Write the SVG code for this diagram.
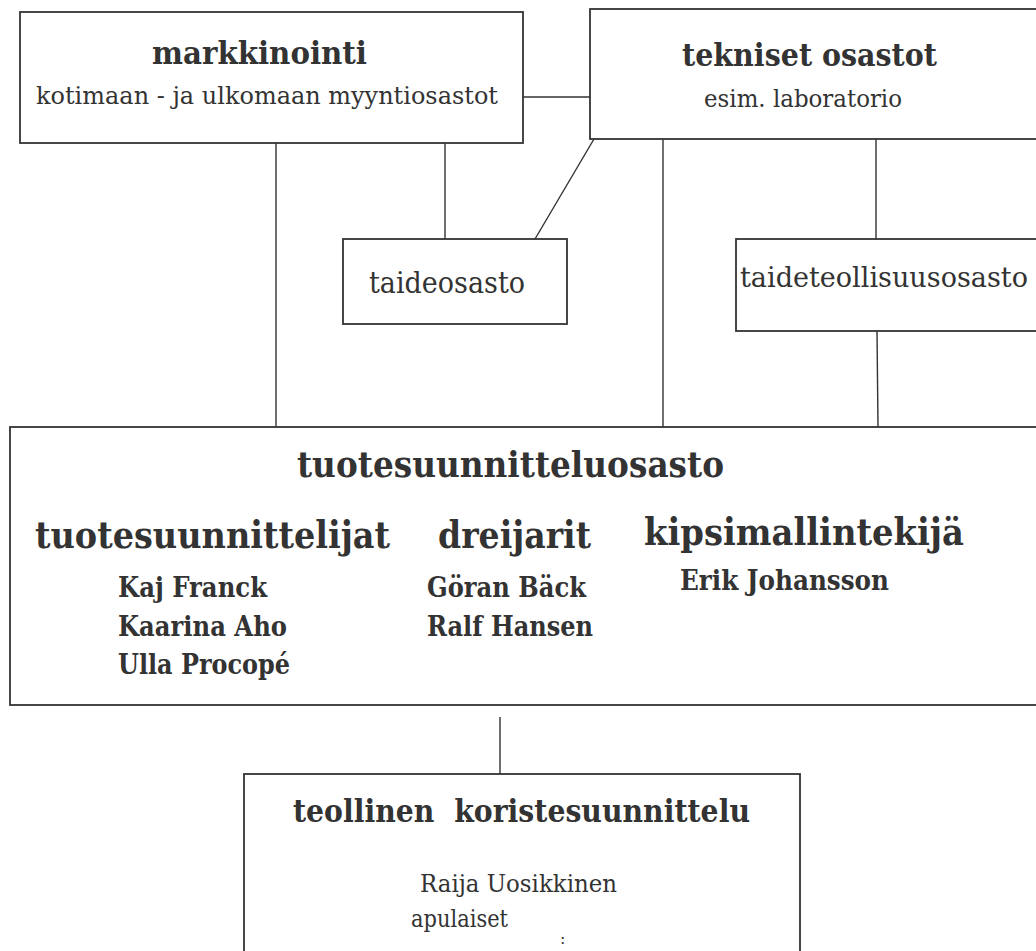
<svg xmlns="http://www.w3.org/2000/svg" width="1036" height="951" viewBox="0 0 1036 951">
<style>
.box{fill:#fff;stroke:#333;stroke-width:1.8}
.ln{stroke:#333;stroke-width:1.4;fill:none}
text{font-family:"DejaVu Serif","Liberation Serif",serif;fill:#333}
.b{font-weight:bold}
</style>
<rect width="1036" height="951" fill="#fff"/>
<g id="connectors">
<line class="ln" x1="523" y1="97" x2="590" y2="97"/>
<line class="ln" x1="276" y1="143" x2="276" y2="427"/>
<line class="ln" x1="445" y1="143" x2="445" y2="239"/>
<line class="ln" x1="594" y1="139" x2="535" y2="239"/>
<line class="ln" x1="663" y1="139" x2="663" y2="427"/>
<line class="ln" x1="876" y1="139" x2="876" y2="239"/>
<line class="ln" x1="877" y1="331" x2="878" y2="427"/>
<line class="ln" x1="500" y1="717" x2="500" y2="774"/>
</g>
<g id="markkinointi">
<rect class="box" x="20" y="12" width="503" height="131"/>
<text class="b" x="152" y="64" font-size="32" textLength="215" lengthAdjust="spacingAndGlyphs">markkinointi</text>
<text x="36" y="104" font-size="25" textLength="462" lengthAdjust="spacingAndGlyphs">kotimaan - ja ulkomaan myyntiosastot</text>
</g>
<g id="tekniset">
<rect class="box" x="590" y="9" width="470" height="130"/>
<text class="b" x="682" y="66" font-size="32" textLength="255" lengthAdjust="spacingAndGlyphs">tekniset osastot</text>
<text x="704" y="107" font-size="25" textLength="198" lengthAdjust="spacingAndGlyphs">esim. laboratorio</text>
</g>
<g id="taideosasto">
<rect class="box" x="343" y="239" width="224" height="85"/>
<text x="369" y="293" font-size="30" textLength="156" lengthAdjust="spacingAndGlyphs">taideosasto</text>
</g>
<g id="taideteollisuusosasto">
<rect class="box" x="736" y="239" width="330" height="92"/>
<text x="740" y="287" font-size="27" textLength="288" lengthAdjust="spacingAndGlyphs">taideteollisuusosasto</text>
</g>
<g id="tuotesuunnitteluosasto">
<rect class="box" x="10" y="427" width="1050" height="278"/>
<text class="b" x="297" y="477" font-size="35" textLength="427" lengthAdjust="spacingAndGlyphs">tuotesuunnitteluosasto</text>
<text class="b" x="35" y="548" font-size="38" textLength="355" lengthAdjust="spacingAndGlyphs">tuotesuunnittelijat</text>
<text class="b" x="438" y="548" font-size="38" textLength="153" lengthAdjust="spacingAndGlyphs">dreijarit</text>
<text class="b" x="644" y="545" font-size="38" textLength="320" lengthAdjust="spacingAndGlyphs">kipsimallintekijä</text>
<text class="b" x="118" y="597" font-size="27" textLength="149" lengthAdjust="spacingAndGlyphs">Kaj Franck</text>
<text class="b" x="118" y="636" font-size="27" textLength="169" lengthAdjust="spacingAndGlyphs">Kaarina Aho</text>
<text class="b" x="118" y="674" font-size="27" textLength="172" lengthAdjust="spacingAndGlyphs">Ulla Procopé</text>
<text class="b" x="427" y="597" font-size="27" textLength="159" lengthAdjust="spacingAndGlyphs">Göran Bäck</text>
<text class="b" x="427" y="636" font-size="27" textLength="166" lengthAdjust="spacingAndGlyphs">Ralf Hansen</text>
<text class="b" x="680" y="590" font-size="27" textLength="209" lengthAdjust="spacingAndGlyphs">Erik Johansson</text>
</g>
<g id="teollinen">
<rect class="box" x="244" y="774" width="556" height="200"/>
<text class="b" x="293" y="822" font-size="31" textLength="457" lengthAdjust="spacingAndGlyphs" style="white-space:pre">teollinen  koristesuunnittelu</text>
<text x="420" y="892" font-size="25" textLength="197" lengthAdjust="spacingAndGlyphs">Raija Uosikkinen</text>
<text x="411" y="927" font-size="25" textLength="97" lengthAdjust="spacingAndGlyphs">apulaiset</text>
<text x="560" y="944" font-size="16">:</text>
</g>
</svg>
